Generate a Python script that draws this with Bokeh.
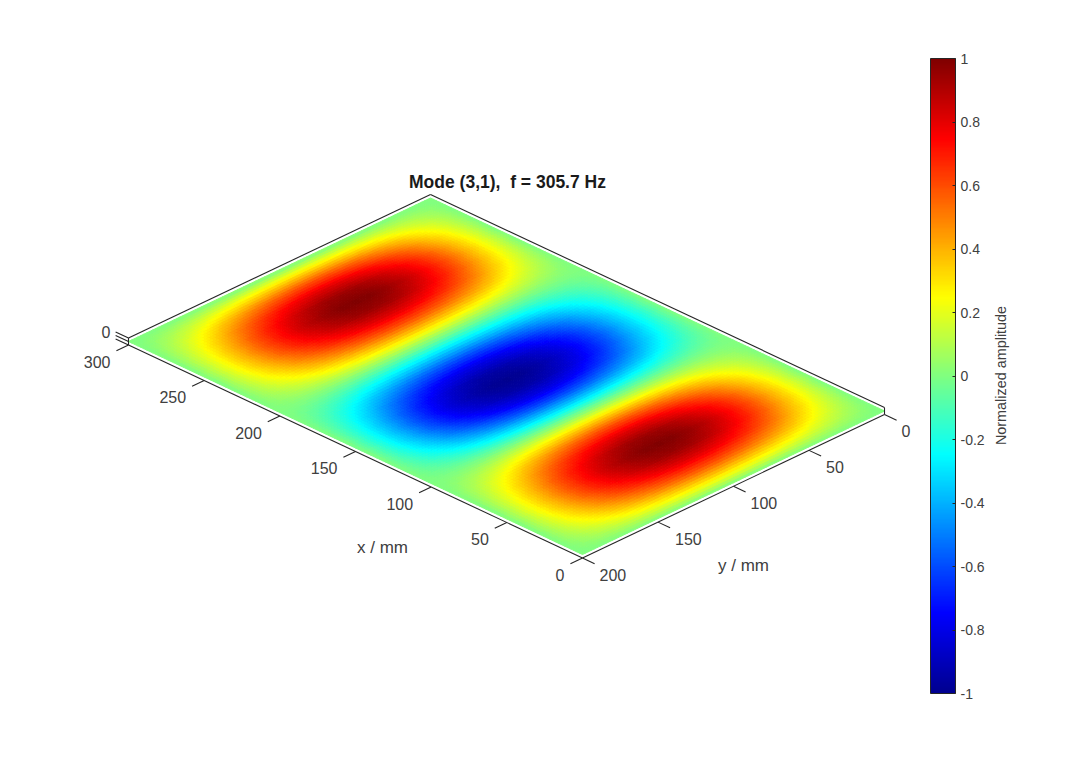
import numpy as np
from bokeh.plotting import figure
from bokeh.models import (ColumnDataSource, Range1d, LinearColorMapper, ColorBar,
                          FixedTicker, CustomJSTickFormatter)
from bokeh.core.properties import value
from bokeh.transform import linear_cmap
from bokeh.embed import file_html
from bokeh.resources import INLINE

# ---- values ----
TITLE = "Mode (3,1), \u00a0f = 305.7 Hz"
X_LABEL = "x / mm"
Y_LABEL = "y / mm"
CB_LABEL = "Normalized amplitude"
x_ticks = [0, 50, 100, 150, 200, 250, 300]
y_ticks = [0, 50, 100, 150, 200]
z_ticks = [-1, 0, 1]
cb_ticks = [-1, -0.8, -0.6, -0.4, -0.2, 0, 0.2, 0.4, 0.6, 0.8, 1]
# amplitude profile along x, stations every 10 mm
x_stations = list(range(0, 301, 10))
x_profile = [0, .31, .59, .81, .95, 1, .95, .81, .59, .31,
             0, -.31, -.59, -.81, -.95, -1, -.95, -.81, -.59, -.31,
             0, .31, .59, .81, .95, 1, .95, .81, .59, .31, 0]
# amplitude profile along y, stations every 10 mm
y_stations = list(range(0, 201, 10))
y_profile = [0, .16, .31, .45, .59, .71, .81, .89, .95, .99,
             1, .99, .95, .89, .81, .71, .59, .45, .31, .16, 0]
# MATLAB jet colour stops
jet_pos = [0, .125, .375, .625, .875, 1]
jet_r = [0, 0, 0, 255, 255, 128]
jet_g = [0, 0, 255, 255, 0, 0]
jet_b = [143, 255, 255, 0, 0, 0]

# ---- page geometry ----
INK = "#262626"
TXT = "#404040"
FONT = value("Liberation Sans")
ORIGIN = np.array([582.0, 554.0])      # x=0, y=200
PER_X = np.array([-454.0, -213.0]) / 300
PER_Y = np.array([-302.0, 143.5]) / 200
PER_Z = 3.5


def proj(x, y, z=0.0):
    x, y, z = np.asarray(x, float), np.asarray(y, float), np.asarray(z, float)
    dy = y - 200
    return (ORIGIN[0] + PER_X[0] * x + PER_Y[0] * dy,
            ORIGIN[1] + PER_X[1] * x + PER_Y[1] * dy - PER_Z * z)


s = np.linspace(0, 1, 256)
palette = ["#%02x%02x%02x" % (int(round(r)), int(round(g)), int(round(b)))
           for r, g, b in zip(np.interp(s, jet_pos, jet_r),
                              np.interp(s, jet_pos, jet_g),
                              np.interp(s, jet_pos, jet_b))]
mapper = LinearColorMapper(palette=palette, low=-1, high=1)

p = figure(width=1064, height=764, x_range=Range1d(0, 1064), y_range=Range1d(764, 0),
           output_backend="svg", toolbar_location=None, min_border=0,
           x_axis_type=None, y_axis_type=None, outline_line_color=None,
           background_fill_color="white", border_fill_color="white")
p.grid.visible = False

# surface
gx = np.linspace(0, 300, 151)
gy = np.linspace(0, 200, 101)
ax = np.interp(gx, x_stations, x_profile)
ay = np.interp(gy, y_stations, y_profile)
amp = np.outer(ax, ay)
xs, ys, cs = [], [], []
for i in range(len(gx) - 1):
    for j in range(len(gy) - 1):
        cx = [gx[i], gx[i + 1], gx[i + 1], gx[i]]
        cy = [gy[j], gy[j], gy[j + 1], gy[j + 1]]
        cz = [amp[i, j], amp[i + 1, j], amp[i + 1, j + 1], amp[i, j + 1]]
        px, py = proj(cx, cy, cz)
        xs.append(np.round(px, 2).tolist())
        ys.append(np.round(py, 2).tolist())
        cs.append(float(np.mean(cz)))
cmap = linear_cmap("c", palette, -1, 1)
p.patches("xs", "ys", source=ColumnDataSource(dict(xs=xs, ys=ys, c=cs)),
          fill_color=cmap, line_color=cmap, line_width=1.0)


def segs(x0, y0, z0, x1, y1, z1):
    a, b = proj(x0, y0, z0)
    c, d = proj(x1, y1, z1)
    p.segment(a, b, c, d, line_color=INK, line_width=1.1)


ZB, ZT = min(z_ticks), max(z_ticks)
# box edges
segs([0, 0], [200, 200], [ZB, ZB], [300, 0], [200, 0], [ZB, ZB])
segs([300, 300], [200, 0], [ZT, ZT], [300, 0], [0, 0], [ZT, ZT])
segs([300, 0], [200, 0], [ZB, ZB], [300, 0], [200, 0], [ZT, ZT])

# ticks
segs(x_ticks, [200] * len(x_ticks), [ZB] * len(x_ticks),
     x_ticks, [208] * len(x_ticks), [ZB] * len(x_ticks))
segs([0] * len(y_ticks), y_ticks, [ZB] * len(y_ticks),
     [-8] * len(y_ticks), y_ticks, [ZB] * len(y_ticks))
segs([300] * 3, [200] * 3, z_ticks, [308.5] * 3, [200] * 3, z_ticks)

# tick labels
tx, ty = proj(x_ticks, [200] * len(x_ticks), ZB)
p.text(tx - 18, ty + 16.5, text=[str(v) for v in x_ticks], text_font=FONT, text_font_size="16px",
       text_color=TXT, text_align="right", text_baseline="middle")
tx, ty = proj([0] * len(y_ticks), y_ticks, ZB)
p.text(tx + 17, ty + 16.5, text=[str(v) for v in y_ticks], text_font=FONT, text_font_size="16px",
       text_color=TXT, text_align="left", text_baseline="middle")
tx, ty = proj([300], [200], [0])
p.text(tx - 18, ty - 9.5, text=["0"], text_font=FONT, text_font_size="16px",
       text_color=TXT, text_align="right", text_baseline="middle")

# axis labels and title
tx, ty = proj([150], [200], [ZB])
p.text(tx + 27, ty + 96, text=[X_LABEL], text_font=FONT, text_font_size="17px",
       text_color=TXT, text_align="center", text_baseline="middle")
tx, ty = proj([0], [100], [ZB])
p.text(tx + 10, ty + 79, text=[Y_LABEL], text_font=FONT, text_font_size="17px",
       text_color=TXT, text_align="center", text_baseline="middle")
p.text([507], [181], text=[TITLE], text_font=FONT, text_font_size="17.5px", text_font_style="bold",
       text_color="#1a1a1a", text_align="center", text_baseline="middle")

# colour bar
cb = ColorBar(color_mapper=mapper, location=(930, 71), width=25, height=635, padding=0, margin=0,
              ticker=FixedTicker(ticks=cb_ticks),
              formatter=CustomJSTickFormatter(code="return String(Math.round(tick*10)/10)"),
              major_tick_in=3, major_tick_out=0, major_tick_line_color=INK,
              minor_tick_line_color=None, bar_line_color=INK, bar_line_width=1.0,
              major_label_text_font="Liberation Sans", major_label_text_font_size="14px",
              major_label_text_color=TXT, label_standoff=5, background_fill_color=None,
              border_line_color=None)
p.add_layout(cb, "center")
p.text([1000], [375], text=[CB_LABEL], text_font=FONT, text_font_size="14.4px", text_color=TXT,
       text_align="center", text_baseline="middle", angle=[np.pi / 2])

open("out.html", "w").write(file_html(p, INLINE))
